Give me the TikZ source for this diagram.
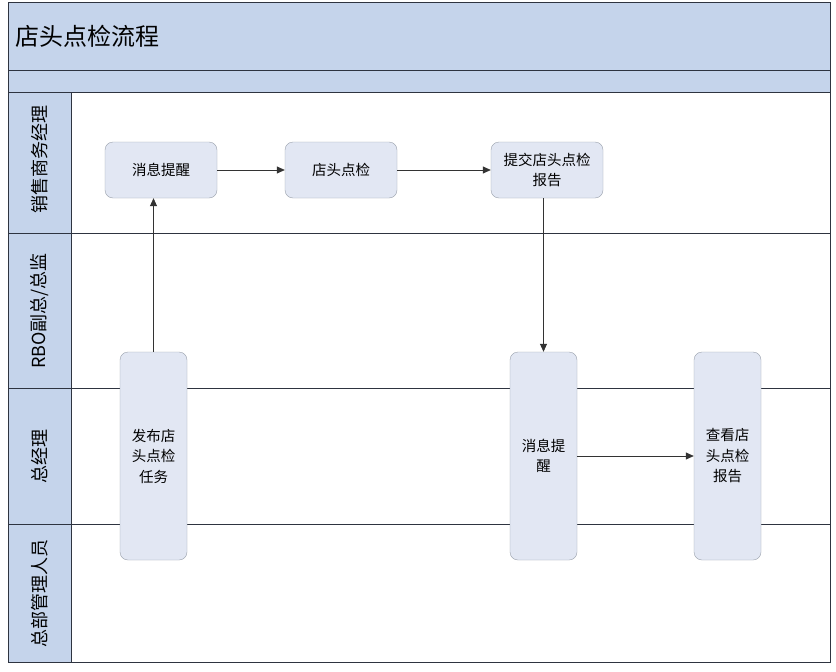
\documentclass[tikz,border=0pt]{standalone}
\usepackage{fontspec}
\setmainfont{Noto Sans CJK SC}
\usetikzlibrary{arrows.meta}
\definecolor{headblue}{HTML}{C5D4EB}
\definecolor{boxfill}{HTML}{E2E7F3}
\definecolor{boxline}{HTML}{9AA1AC}
\definecolor{laneline}{HTML}{2E3440}
\tikzset{
  task/.style={draw=boxline, fill=boxfill, rounded corners=8pt, align=center, font=\fontsize{14.5}{20.5}\selectfont, inner sep=0pt},
  flow/.style={-{Triangle[length=8pt,width=7pt]}, draw=black!80, line width=0.7pt},
  lanelabel/.style={rotate=90, font=\fontsize{18}{20}\selectfont}
}
\begin{document}
\begin{tikzpicture}[x=1pt,y=-1pt]
\useasboundingbox (0,0) rectangle (836,672);
\fill[white] (0,0) rectangle (836,672);
% header bands
\fill[headblue] (8,2) rectangle (830,92);
\fill[headblue] (8,92) rectangle (71,662);
\draw[laneline, line width=0.8pt] (8,70) -- (830,70);
\draw[laneline, line width=0.8pt] (8,92) -- (830,92);
\draw[laneline, line width=0.8pt] (8,233) -- (830,233);
\draw[laneline, line width=0.8pt] (8,388) -- (830,388);
\draw[laneline, line width=0.8pt] (8,524) -- (830,524);
\draw[laneline, line width=0.8pt] (71,92) -- (71,662);
\draw[laneline, line width=0.9pt] (8,2) rectangle (830,662);
\node[anchor=west, font=\fontsize{24}{26}\selectfont] (title) at (12,36) {店头点检流程};
% lane labels
\node[lanelabel] (lane1) at (40,159) {销售商务经理};
\node[lanelabel] (lane2) at (40,311) {RBO副总/总监};
\node[lanelabel] (lane3) at (40,456) {总经理};
\node[lanelabel] (lane4) at (40,593) {总部管理人员};
% tasks
\node[task, minimum width=112pt, minimum height=56pt] (remind1) at (161,170) {消息提醒};
\node[task, minimum width=112pt, minimum height=56pt] (check) at (341,170) {店头点检};
\node[task, minimum width=112pt, minimum height=56pt] (submit) at (547,170) {提交店头点检\\报告};
\node[task, minimum width=67pt, minimum height=208pt] (publish) at (153.5,456) {发布店\\头点检\\任务};
\node[task, minimum width=67pt, minimum height=208pt] (remind2) at (543.5,456) {消息提\\醒};
\node[task, minimum width=67pt, minimum height=208pt] (view) at (727.5,456) {查看店\\头点检\\报告};
% connectors
\draw[flow] (publish.north) -- (publish.north |- remind1.south);
\draw[flow] (remind1) -- (check);
\draw[flow] (check) -- (submit);
\draw[flow] (submit.south -| remind2.north) -- (remind2.north);
\draw[flow] (remind2) -- (view);
\end{tikzpicture}
\end{document}
